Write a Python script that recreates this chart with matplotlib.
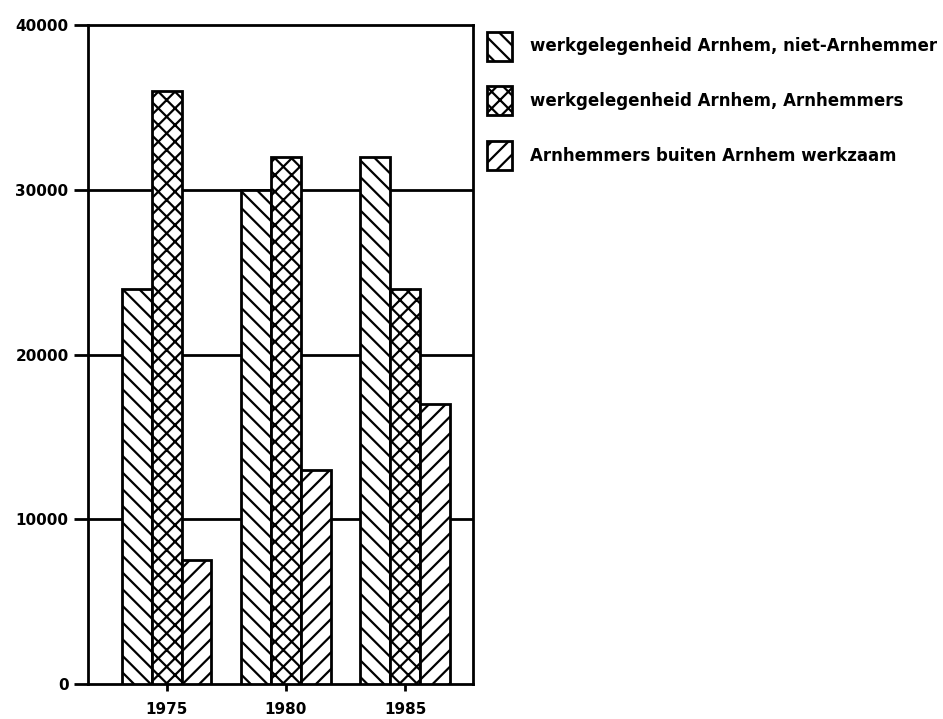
"""Werkgelegenheid Arnhem, 1975-1985."""

import matplotlib
matplotlib.use("Agg")
import matplotlib.pyplot as plt
import numpy as np

years = ["1975", "1980", "1985"]
niet_arnhemmers = [24000, 30000, 32000]
arnhemmers = [36000, 32000, 24000]
buiten_arnhem = [7500, 13000, 17000]

series_labels = [
    "werkgelegenheid Arnhem, niet-Arnhemmer",
    "werkgelegenheid Arnhem, Arnhemmers",
    "Arnhemmers buiten Arnhem werkzaam",
]
hatches = ["\\\\", "xx", "//"]

plt.rcParams["hatch.linewidth"] = 1.6
plt.rcParams["font.family"] = "DejaVu Sans"
plt.rcParams["font.weight"] = "bold"

fig = plt.figure(figsize=(9.43, 7.19), dpi=100)
ax = fig.add_axes([0.0933, 0.0487, 0.4083, 0.9165])

x = np.arange(len(years))
width = 0.25
for i, (vals, lab, h) in enumerate(zip([niet_arnhemmers, arnhemmers, buiten_arnhem],
                                        series_labels, hatches)):
    ax.bar(x + (i - 1) * width, vals, width, facecolor="white", edgecolor="black",
           linewidth=2, hatch=h, label=lab, zorder=3)

ax.set_ylim(0, 40000)
ax.set_xlim(-0.66, 2.57)
ax.set_yticks([0, 10000, 20000, 30000, 40000])
ax.set_xticks(x)
ax.set_xticklabels(years)
for y in [10000, 20000, 30000]:
    ax.axhline(y, color="black", linewidth=2, zorder=1)

for s in ax.spines.values():
    s.set_linewidth(2)
ax.tick_params(axis="y", length=10, width=2, labelsize=11, pad=4)
ax.tick_params(axis="x", length=5, width=2, labelsize=11, pad=8)

fig.legend(loc="upper left", bbox_to_anchor=(0.516, 0.956), frameon=False,
           fontsize=12, handlelength=1.5, handleheight=2.3, labelspacing=1.55,
           handletextpad=1.1, borderaxespad=0, borderpad=0)

plt.savefig("out.png", dpi=100, facecolor="white")
